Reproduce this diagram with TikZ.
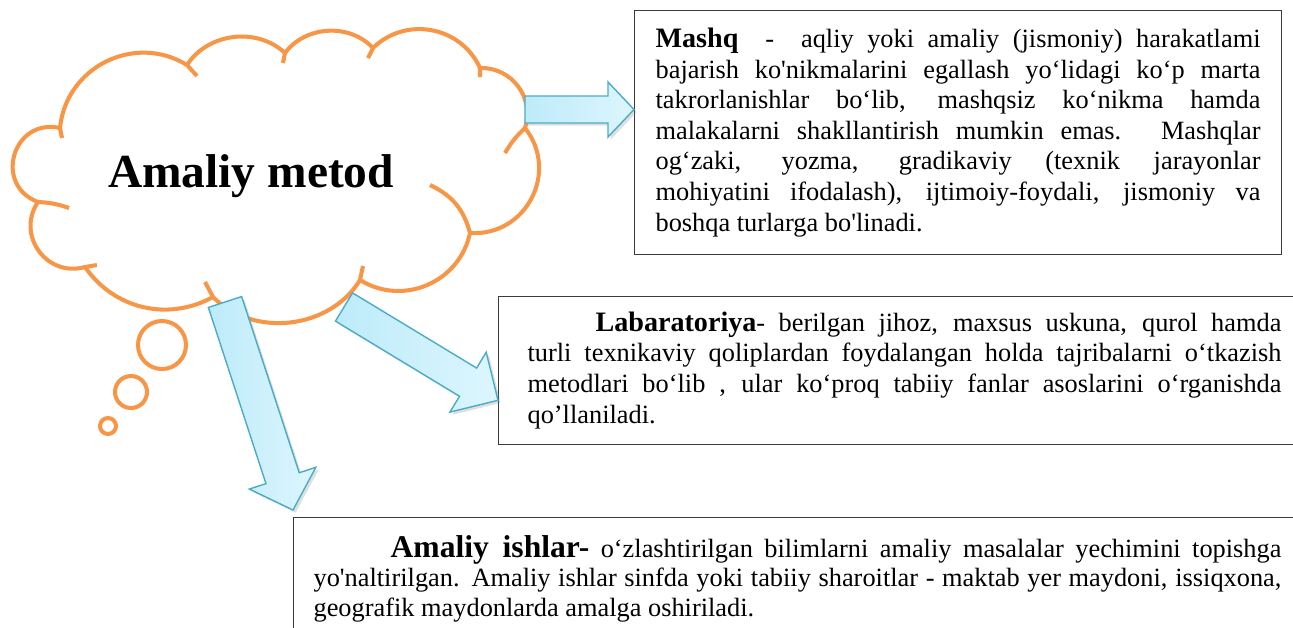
\documentclass[tikz,border=0pt]{standalone}
\usepackage{fontspec}
\setmainfont{Liberation Serif}[Ligatures=TeXOff]
\usetikzlibrary{calc,shadows}

\definecolor{cloudorange}{HTML}{F79646}
\definecolor{arrowblue}{HTML}{4BACC6}
\definecolor{arrowlight}{HTML}{BDEBFA}
\definecolor{arrowpale}{HTML}{DDF6FE}
\definecolor{boxgray}{HTML}{3C3C3C}

\tikzset{
  cloudline/.style={draw=cloudorange, line width=2.3pt},
  arrowbody/.style={draw=arrowblue, line width=0.8pt, left color=arrowlight, right color=arrowpale,
    drop shadow={opacity=0.25, shadow xshift=1.5pt, shadow yshift=-1.5pt}},
  textbox/.style={draw=boxgray, line width=0.7pt, anchor=north west, align=justify,
    font=\fontsize{15}{17.4}\selectfont},
}

% tail, tip, half shaft, half head, head length
\newcommand{\blockarrow}[5]{%
  \coordinate (ba) at ($(#2)!#5!(#1)$);
  \draw[arrowbody] ($(#1)!#3!90:(#2)$) -- ($(ba)!#3!-90:(#1)$) -- ($(ba)!#4!-90:(#1)$)
    -- (#2) -- ($(ba)!#4!90:(#1)$) -- ($(ba)!#3!90:(#1)$) -- ($(#1)!#3!-90:(#2)$) -- cycle;
}

\begin{document}
\begin{tikzpicture}[x=0.02cm, y=-0.02cm]
\useasboundingbox (0,0) rectangle (1293,627);
\clip (0,0) rectangle (1293,627);

%cloud
\draw[cloudline, fill=white, line join=round] (60,128) to[bend left=58, looseness=1.11] (187,65)
  to[bend left=50] (285,53) to[bend left=50] (373,48) to[bend left=55, looseness=1.08] (480,68)
  to[bend left=55, looseness=1.08] (525,128) to[bend left=66, looseness=1.21] (470,233)
  to[bend left=55, looseness=1.08] (360,280) to[bend left=52] (213,297)
  to[bend left=42] (85,267) to[bend left=70, looseness=1.27] (38,202)
  to[bend left=86, looseness=1.6] (60,128);
\draw[cloudline] (60,128) -- (62,138) (187,65) -- (197,76) (285,53) -- (283,63)
  (373,48) -- (368,58) (480,68) -- (480,77) (525,128) to[bend right=8] (505,153)
  (470,233) to[bend right=25] (430,185) (360,280) -- (363,266) (213,297) -- (205,282)
  (85,267) -- (97,265) (38,202) to[bend left=8] (69,208);
\draw[cloudline] (162,345) circle (0.48cm);
\draw[cloudline] (131,392) circle (0.32cm);
\draw[cloudline] (108,426) circle (0.16cm);
\node[font=\fontsize{27}{30}\selectfont\bfseries, anchor=base] (cloud) at (251,187) {Amaliy metod};

\node[textbox, inner xsep=0.42cm, inner ysep=10pt, text width=12.1cm] (mashq) at (634,10)
{\hyphenpenalty=10000\exhyphenpenalty=10000
{\fontsize{16}{17.4}\selectfont\bfseries Mashq} \ - \ aqliy yoki amaliy (jismoniy) harakatlami\linebreak
bajarish ko'nikmalarini egallash yo‘lidagi ko‘p marta\linebreak
takrorlanishlar bo‘lib, mashqsiz ko‘nikma hamda\linebreak
malakalarni shakllantirish mumkin emas. Mashqlar\linebreak
og‘zaki, yozma, gradikaviy (texnik jarayonlar\linebreak
mohiyatini ifodalash), ijtimoiy-foydali, jismoniy va\linebreak
boshqa turlarga bo'linadi.};

\node[textbox, inner xsep=0.58cm, inner ysep=8.5pt, text width=15.08cm,
  font=\fontsize{15}{17.6}\selectfont] (lab) at (498,296)
{\hyphenpenalty=10000\exhyphenpenalty=10000
\hspace*{1.36cm}{\fontsize{16}{17.6}\selectfont\bfseries Labaratoriya}- berilgan jihoz, maxsus uskuna, qurol hamda\linebreak
turli texnikaviy qoliplardan foydalangan holda tajribalarni o‘tkazish\linebreak
metodlari bo‘lib , ular ko‘proq tabiiy fanlar asoslarini o‘rganishda\linebreak
qo’llaniladi.};

\node[textbox, inner xsep=0.4cm, inner ysep=10pt, text width=19.36cm,
  font=\fontsize{15}{16.8}\selectfont] (ishlar) at (293,517)
{\hyphenpenalty=10000\exhyphenpenalty=10000
\hspace*{1.54cm}{\fontsize{18}{16.8}\selectfont\bfseries Amaliy ishlar-} o‘zlashtirilgan bilimlarni amaliy masalalar yechimini topishga\linebreak
yo'naltirilgan. Amaliy ishlar sinfda yoki tabiiy sharoitlar - maktab yer maydoni, issiqxona,\linebreak
geografik maydonlarda amalga oshiriladi.};

\coordinate (mtail) at (525,109.5);
\coordinate (ltail) at (344,307);
\coordinate (atail) at (225,302);
\blockarrow{mtail}{mashq.west |- mtail}{0.27cm}{0.55cm}{0.52cm}
\blockarrow{ltail}{$(lab.north west)!0.7!(lab.south west)$}{0.33cm}{0.7cm}{0.7cm}
\blockarrow{atail}{[yshift=0.14cm]ishlar.north west}{0.35cm}{0.7cm}{0.67cm}
\end{tikzpicture}
\end{document}
